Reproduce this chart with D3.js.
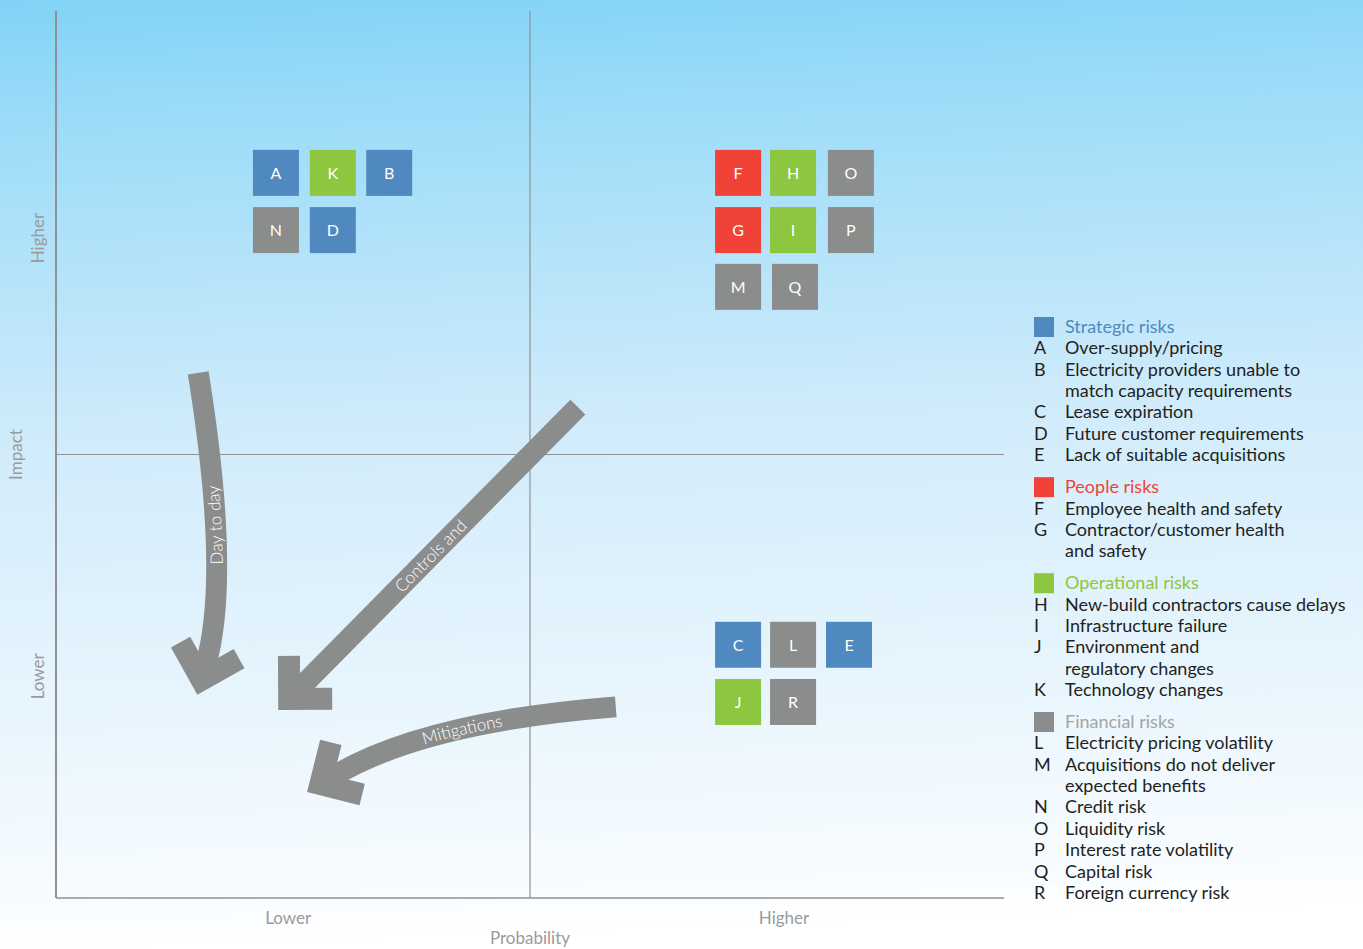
<!DOCTYPE html>
<html>
<head>
<meta charset="utf-8">
<script src="https://cdn.jsdelivr.net/npm/d3@7"></script>
<style>
  body { margin: 0; padding: 0; background: #fff; }
  svg { display: block; font-family: Lato, "Open Sans", sans-serif; }
</style>
</head>
<body>
<svg id="chart"></svg>
<script>
var width = 1363;
var height = 949;

// risk categories
var categories = ["Strategic risks", "People risks", "Operational risks", "Financial risks"];

// risks: id, category index, description lines, probability, impact
var riskIds = ["A","B","C","D","E","F","G","H","I","J","K","L","M","N","O","P","Q","R"];
var riskCategory = [0,0,0,0,0,1,1,2,2,2,2,3,3,3,3,3,3,3];
var riskNames = [
  ["Over-supply/pricing"],
  ["Electricity providers unable to", "match capacity requirements"],
  ["Lease expiration"],
  ["Future customer requirements"],
  ["Lack of suitable acquisitions"],
  ["Employee health and safety"],
  ["Contractor/customer health", "and safety"],
  ["New-build contractors cause delays"],
  ["Infrastructure failure"],
  ["Environment and", "regulatory changes"],
  ["Technology changes"],
  ["Electricity pricing volatility"],
  ["Acquisitions do not deliver", "expected benefits"],
  ["Credit risk"],
  ["Liquidity risk"],
  ["Interest rate volatility"],
  ["Capital risk"],
  ["Foreign currency risk"]
];
// position on the matrix (0..2 on each axis, 1 = quadrant split)
var riskProbability = [0.464,0.703,1.439,0.584,1.673,1.439,1.439,1.555,1.555,1.439,0.584,1.555,1.439,0.464,1.677,1.677,1.559,1.555];
var riskImpact      = [1.635,1.635,0.571,1.506,0.571,1.635,1.506,1.635,1.506,0.442,1.635,0.571,1.378,1.506,1.635,1.506,1.378,0.442];

// axis labels
var probabilityTicks = ["Lower", "Higher"];
var probabilityTickPos = [0.49, 1.536];
var impactTicks = ["Lower", "Higher"];
var impactTickPos = [0.5, 1.488];

// arrows: label, start, control, shaft end (probability, impact)
var arrowLabels = ["Day to day", "Controls and", "Mitigations"];
var arrowStart = [[0.300, 1.184], [1.101, 1.107], [1.181, 0.431]];
var arrowCtrl  = [[0.369, 0.726], [0.808, 0.790], [0.776, 0.397]];
var arrowEnd   = [[0.316, 0.526], [0.515, 0.474], [0.586, 0.275]];
var arrowLabelPos = ["48%", "47%", "47%"];

var color = d3.scaleOrdinal().domain(d3.range(4)).range(["#4f89bf", "#f04236", "#8dc63f", "#8b8c8c"]);
var headerColor = d3.scaleOrdinal().domain(d3.range(4)).range(["#4f89bf", "#f04236", "#8dc63f", "#a3a5a6"]);

var x = d3.scaleLinear().domain([0, 2]).range([56, 1004]);
var y = d3.scaleLinear().domain([0, 2]).range([898, 11]);

var svg = d3.select("#chart").attr("width", width).attr("height", height);

var defs = svg.append("defs");
var grad = defs.append("linearGradient").attr("id", "bg")
    .attr("x1", 0).attr("y1", 0).attr("x2", 0.05).attr("y2", 1);
grad.append("stop").attr("offset", "0").attr("stop-color", "#81d3f6");
grad.append("stop").attr("offset", "0.13").attr("stop-color", "#9cdcf8");
grad.append("stop").attr("offset", "0.48").attr("stop-color", "#d2ecfb");
grad.append("stop").attr("offset", "0.95").attr("stop-color", "#f8fcff");
grad.append("stop").attr("offset", "1").attr("stop-color", "#ffffff");

svg.append("rect").attr("width", width).attr("height", height).attr("fill", "url(#bg)");

// quadrant lines
var lines = svg.append("g").attr("stroke", "#8f9192");
lines.append("line").attr("x1", x(0)).attr("x2", x(0)).attr("y1", y(2)).attr("y2", y(0)).attr("stroke-width", 2);
lines.append("line").attr("x1", x(0)).attr("x2", x(2)).attr("y1", y(0)).attr("y2", y(0)).attr("stroke-width", 1.5);
lines.append("line").attr("x1", x(1)).attr("x2", x(1)).attr("y1", y(2)).attr("y2", y(0)).attr("stroke-width", 1.2);
lines.append("line").attr("x1", x(0)).attr("x2", x(2)).attr("y1", y(1)).attr("y2", y(1)).attr("stroke-width", 1.2);

// axis labels
var axisCol = "#999b9c";
var bottom = svg.append("g").attr("fill", axisCol).attr("font-size", 17).attr("text-anchor", "middle");
bottom.selectAll("text.tick").data(probabilityTicks).enter().append("text")
    .attr("class", "tick")
    .attr("x", function(d, i) { return x(probabilityTickPos[i]); })
    .attr("y", 924)
    .text(function(d) { return d; });
bottom.append("text").attr("x", x(1)).attr("y", 944).text("Probability");

var left = svg.append("g").attr("fill", axisCol).attr("font-size", 17).attr("text-anchor", "middle");
left.selectAll("text.tick").data(impactTicks).enter().append("text")
    .attr("class", "tick")
    .attr("transform", function(d, i) { return "translate(44," + y(impactTickPos[i]) + ") rotate(-90)"; })
    .text(function(d) { return d; });
left.append("text").attr("transform", "translate(22," + y(1) + ") rotate(-90)").text("Impact");

// arrows
function pt(p) { return [x(p[0]), y(p[1])]; }
var shaftW = 21, headL = 54, headW = 22;

var arrows = svg.append("g");
arrowLabels.forEach(function(label, i) {
    var s = pt(arrowStart[i]), c = pt(arrowCtrl[i]), e = pt(arrowEnd[i]);
    var path = d3.path();
    path.moveTo(s[0], s[1]);
    path.quadraticCurveTo(c[0], c[1], e[0], e[1]);
    arrows.append("path").attr("d", path.toString())
        .attr("fill", "none").attr("stroke", "#8b8c8c").attr("stroke-width", shaftW);

    // L-shaped head
    var dx = e[0] - c[0], dy = e[1] - c[1], len = Math.sqrt(dx * dx + dy * dy);
    dx /= len; dy /= len;
    var tip = [e[0] + headW * Math.SQRT2 * dx, e[1] + headW * Math.SQRT2 * dy];
    var bx = -dx, by = -dy, r = Math.SQRT1_2;
    var u1 = [(bx - by) * r, (bx + by) * r];
    var u2 = [(bx + by) * r, (by - bx) * r];
    var pts = [
        tip,
        [tip[0] + headL * u1[0], tip[1] + headL * u1[1]],
        [tip[0] + headL * u1[0] + headW * u2[0], tip[1] + headL * u1[1] + headW * u2[1]],
        [tip[0] + headW * (u1[0] + u2[0]), tip[1] + headW * (u1[1] + u2[1])],
        [tip[0] + headL * u2[0] + headW * u1[0], tip[1] + headL * u2[1] + headW * u1[1]],
        [tip[0] + headL * u2[0], tip[1] + headL * u2[1]]
    ];
    arrows.append("path").attr("d", d3.line()(pts) + "Z").attr("fill", "#8b8c8c");

    // label along the shaft, read from the head end
    var rev = d3.path();
    rev.moveTo(e[0], e[1]);
    rev.quadraticCurveTo(c[0], c[1], s[0], s[1]);
    defs.append("path").attr("id", "lab" + i).attr("d", rev.toString());
    arrows.append("text").attr("fill", "#fff").attr("font-size", 17).attr("font-weight", 300)
        .attr("dy", 6)
        .append("textPath").attr("href", "#lab" + i)
        .attr("startOffset", arrowLabelPos[i]).attr("text-anchor", "middle")
        .text(label);
});

// risk boxes
var box = 46;
var risks = riskIds.map(function(id, i) {
    return { id: id, cat: riskCategory[i], px: riskProbability[i], im: riskImpact[i] };
});
var cells = svg.append("g").selectAll("g").data(risks).enter().append("g")
    .attr("transform", function(d) { return "translate(" + x(d.px) + "," + y(d.im) + ")"; });
cells.append("rect")
    .attr("x", -box / 2).attr("y", -box / 2).attr("width", box).attr("height", box)
    .attr("fill", function(d) { return color(d.cat); });
cells.append("text")
    .attr("text-anchor", "middle").attr("dy", 6)
    .attr("fill", "#fff").attr("font-size", 16)
    .text(function(d) { return d.id; });

// legend
var legend = svg.append("g").attr("font-size", 18);
var lh = 21.36, gy = 327;
categories.forEach(function(cat, ci) {
    if (ci > 0) gy += 32 - lh;
    legend.append("rect").attr("x", 1034).attr("y", gy - 10).attr("width", 20).attr("height", 20)
        .attr("fill", color(ci));
    legend.append("text").attr("x", 1065).attr("y", gy + 6).attr("fill", headerColor(ci)).text(cat);
    riskIds.forEach(function(id, i) {
        if (riskCategory[i] !== ci) return;
        riskNames[i].forEach(function(line, li) {
            gy += lh;
            if (li === 0) {
                legend.append("text").attr("x", 1034).attr("y", gy + 6).attr("fill", "#231f20").text(id);
            }
            legend.append("text").attr("x", 1065).attr("y", gy + 6).attr("fill", "#231f20").text(line);
        });
    });
    gy += lh;
});
</script>
</body>
</html>
